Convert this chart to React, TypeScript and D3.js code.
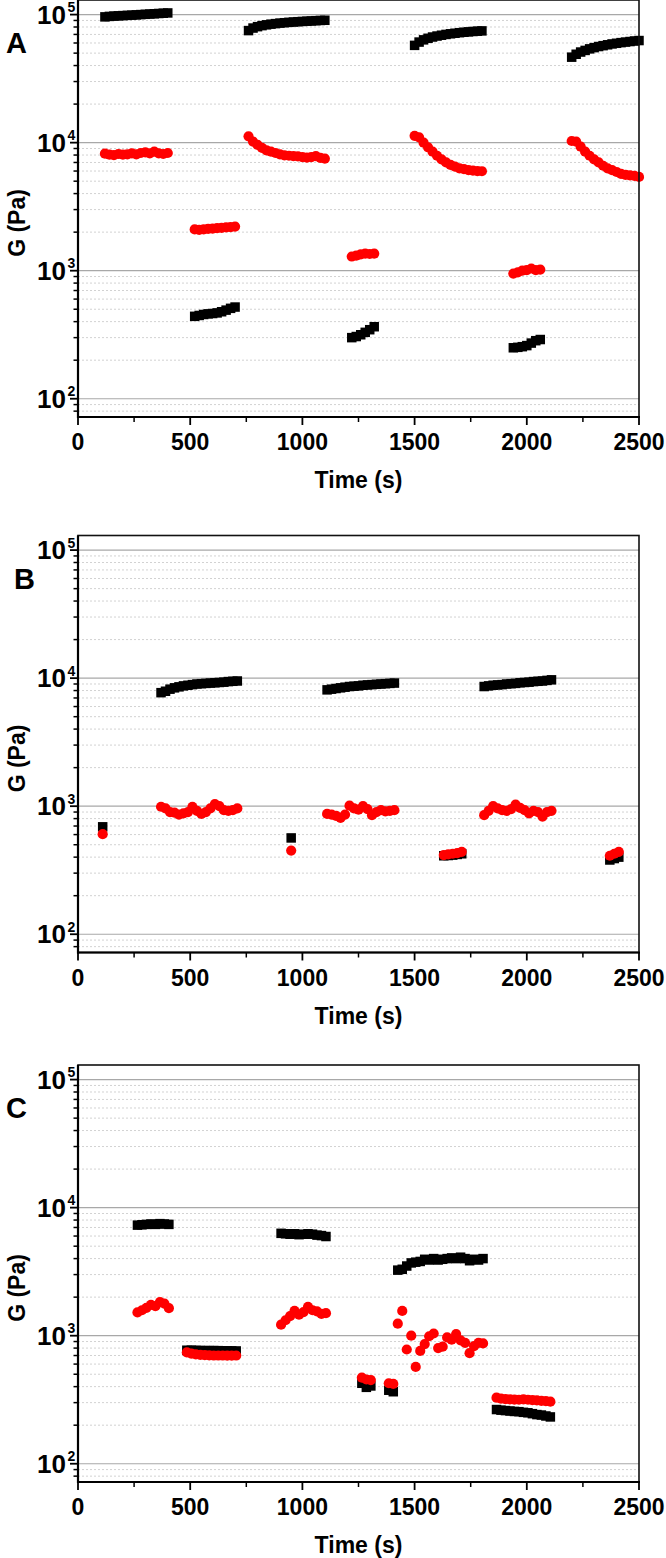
import React from 'react';
import * as d3 from 'd3';

type Pt = [number, number];

const xMajorTicks = [0, 500, 1000, 1500, 2000, 2500];
const xMinorTicks = [250, 750, 1250, 1750, 2250];
const yDecadeTicks = [100, 1000, 10000, 100000];
const yExponents = ['2', '3', '4', '5'];
const panelNames = ['A', 'B', 'C'];
const xTitle = 'Time (s)';
const yTitle = 'G (Pa)';

// Panel A
const aBlack: Pt[] = [
  [120, 96000], [140, 96800], [160, 97300], [180, 97800], [200, 98200], [220, 98600], [240, 99000], [260, 99500],
  [280, 100000], [300, 100500], [320, 101000], [340, 101500], [360, 102000], [380, 102500], [400, 103000],
  [520, 440], [540, 447], [560, 455], [580, 460], [600, 463], [620, 468], [640, 478], [660, 492], [680, 508], [700, 520],
  [760, 75000], [780, 78500], [800, 80500], [820, 82000], [840, 83200], [860, 84200], [880, 85000], [900, 85800],
  [920, 86400], [940, 87000], [960, 87500], [980, 88000], [1000, 88400], [1020, 88800], [1040, 89200], [1060, 89600],
  [1080, 90000], [1100, 90300],
  [1220, 300], [1240, 306], [1260, 316], [1280, 330], [1300, 346], [1320, 365],
  [1500, 57500], [1520, 61000], [1540, 63500], [1560, 65300], [1580, 66800], [1600, 68000], [1620, 69000], [1640, 70000],
  [1660, 70800], [1680, 71500], [1700, 72200], [1720, 72800], [1740, 73300], [1760, 73800], [1780, 74200], [1800, 74600],
  [1940, 250], [1960, 252], [1980, 255], [2000, 260], [2020, 272], [2040, 284], [2060, 290],
  [2200, 46500], [2220, 49000], [2240, 51000], [2260, 52500], [2280, 54000], [2300, 55200], [2320, 56300], [2340, 57200],
  [2360, 58100], [2380, 59000], [2400, 59700], [2420, 60400], [2440, 61000], [2460, 61600], [2480, 62200], [2500, 62700],
];
const aRed: Pt[] = [
  [120, 8200], [140, 8050], [160, 8000], [180, 8150], [200, 8050], [220, 8100], [240, 8250], [260, 8100],
  [280, 8300], [300, 8400], [320, 8250], [340, 8500], [360, 8250], [380, 8150], [400, 8300],
  [520, 2100], [540, 2080], [560, 2100], [580, 2120], [600, 2130], [620, 2150], [640, 2160], [660, 2175], [680, 2190], [700, 2210],
  [760, 11200], [780, 10200], [800, 9600], [820, 9100], [840, 8700], [860, 8500], [880, 8300], [900, 8100],
  [920, 7950], [940, 7900], [960, 7850], [980, 7800], [1000, 7700], [1020, 7650], [1040, 7700], [1060, 7850],
  [1080, 7600], [1100, 7500],
  [1220, 1290], [1240, 1310], [1260, 1340], [1280, 1360], [1300, 1350], [1320, 1360],
  [1500, 11300], [1520, 11000], [1540, 10000], [1560, 9200], [1580, 8500], [1600, 7900], [1620, 7400], [1640, 7000],
  [1660, 6700], [1680, 6500], [1700, 6300], [1720, 6200], [1740, 6100], [1760, 6050], [1780, 6000], [1800, 5980],
  [1940, 950], [1960, 970], [1980, 1000], [2000, 1010], [2020, 1040], [2040, 1010], [2060, 1020],
  [2200, 10300], [2220, 10200], [2240, 9300], [2260, 8500], [2280, 7900], [2300, 7400], [2320, 7000], [2340, 6600],
  [2360, 6300], [2380, 6100], [2400, 5900], [2420, 5700], [2440, 5600], [2460, 5550], [2480, 5500], [2500, 5400],
];

// Panel B
const bBlack: Pt[] = [
  [110, 690],
  [370, 7700], [390, 7900], [410, 8200], [430, 8400], [450, 8550], [470, 8700], [490, 8800], [510, 8900], [530, 9000],
  [550, 9050], [570, 9100], [590, 9150], [610, 9200], [630, 9250], [650, 9300], [670, 9400], [690, 9450], [710, 9500],
  [950, 565],
  [1110, 8100], [1130, 8200], [1150, 8300], [1170, 8400], [1190, 8500], [1210, 8600], [1230, 8650], [1250, 8700],
  [1270, 8800], [1290, 8850], [1310, 8900], [1330, 8950], [1350, 9000], [1370, 9050], [1390, 9100], [1410, 9150],
  [1630, 410], [1650, 412], [1670, 415], [1690, 420], [1710, 425],
  [1810, 8600], [1830, 8700], [1850, 8800], [1870, 8850], [1890, 8900], [1910, 9000], [1930, 9050], [1950, 9100],
  [1970, 9200], [1990, 9250], [2010, 9300], [2030, 9400], [2050, 9450], [2070, 9500], [2090, 9600], [2110, 9700],
  [2370, 380], [2390, 390], [2410, 400],
];
const bRed: Pt[] = [
  [110, 605],
  [370, 990], [390, 960], [410, 900], [430, 890], [450, 860], [470, 880], [490, 900], [510, 990], [530, 920],
  [550, 870], [570, 900], [590, 960], [610, 1040], [630, 1000], [650, 930], [670, 920], [690, 930], [710, 960],
  [950, 450],
  [1110, 870], [1130, 860], [1150, 840], [1170, 810], [1190, 860], [1210, 1010], [1230, 960], [1250, 940],
  [1270, 1000], [1290, 950], [1310, 850], [1330, 900], [1350, 930], [1370, 910], [1390, 920], [1410, 930],
  [1630, 415], [1650, 420], [1670, 425], [1690, 430], [1710, 440],
  [1810, 850], [1830, 920], [1850, 1000], [1870, 960], [1890, 930], [1910, 920], [1930, 950], [1950, 1030],
  [1970, 970], [1990, 930], [2010, 880], [2030, 920], [2050, 900], [2070, 830], [2090, 900], [2110, 920],
  [2370, 410], [2390, 425], [2410, 440],
];

// Panel C
const cBlack: Pt[] = [
  [265, 7300], [285, 7350], [305, 7400], [325, 7450], [345, 7400], [365, 7500], [385, 7450], [405, 7400],
  [485, 770], [505, 770], [525, 768], [545, 766], [565, 765], [585, 765], [605, 765], [625, 764], [645, 762],
  [665, 762], [685, 760], [705, 760],
  [905, 6300], [925, 6250], [945, 6200], [965, 6250], [985, 6150], [1005, 6200], [1025, 6250], [1045, 6200],
  [1065, 6100], [1085, 6050], [1105, 5950],
  [1265, 425], [1285, 395], [1305, 405],
  [1385, 375], [1405, 365],
  [1425, 3250], [1445, 3300], [1465, 3500], [1485, 3700], [1505, 3750], [1525, 3800], [1545, 3950], [1565, 3900],
  [1585, 4000], [1605, 3900], [1625, 3950], [1645, 4000], [1665, 4050], [1685, 4000], [1705, 4100], [1725, 4000],
  [1745, 3850], [1765, 3950], [1785, 3900], [1805, 4000],
  [1865, 265], [1885, 262], [1905, 260], [1925, 258], [1945, 256], [1965, 255], [1985, 252], [2005, 250],
  [2025, 246], [2045, 242], [2065, 240], [2085, 236], [2105, 232],
];
const cRed: Pt[] = [
  [265, 1520], [285, 1580], [305, 1650], [325, 1740], [345, 1700], [365, 1830], [385, 1780], [405, 1640],
  [485, 740], [505, 725], [525, 715], [545, 708], [565, 705], [585, 703], [605, 700], [625, 700], [645, 700],
  [665, 698], [685, 698], [705, 700],
  [905, 1220], [925, 1320], [945, 1420], [965, 1560], [985, 1460], [1005, 1530], [1025, 1680], [1045, 1580],
  [1065, 1550], [1085, 1480], [1105, 1500],
  [1265, 470], [1285, 455], [1305, 450],
  [1385, 425], [1405, 420],
  [1425, 1240], [1445, 1560], [1465, 780], [1485, 1000], [1505, 570], [1525, 760], [1545, 860], [1565, 990],
  [1585, 1040], [1605, 800], [1625, 820], [1645, 970], [1665, 930], [1685, 1030], [1705, 920], [1725, 880],
  [1745, 730], [1765, 830], [1785, 880], [1805, 870],
  [1865, 328], [1885, 322], [1905, 320], [1925, 318], [1945, 317], [1965, 316], [1985, 318], [2005, 316],
  [2025, 314], [2045, 312], [2065, 310], [2085, 308], [2105, 305],
];

const blackSeries = [aBlack, bBlack, cBlack];
const redSeries = [aRed, bRed, cRed];

const W = 666;
const H = 1558;
const LEFT = 78;
const RIGHT = 639;
const PLOT_H = 417;
const PANEL_TOPS = [0, 535.5, 1065];
const FONT = "'Liberation Sans', Arial, Helvetica, sans-serif";

function Panel({ idx }: { idx: number }) {
  const top = PANEL_TOPS[idx];
  const bottom = top + PLOT_H;
  const x = d3.scaleLinear().domain([0, 2500]).range([LEFT, RIGHT]);
  const y = d3.scaleLog().domain([72, 130000]).range([bottom, top]);
  const minor: number[] = [];
  [10, 100, 1000, 10000, 100000].forEach((d) => {
    for (let k = 2; k <= 9; k++) {
      const v = k * d;
      if (v >= 72 && v <= 130000) minor.push(v);
    }
  });
  const sq = 9.5;
  return (
    <g>
      {minor.map((v) => (
        <line key={'mg' + v} x1={LEFT} x2={RIGHT} y1={y(v)} y2={y(v)} stroke="#d2d2d2" strokeWidth={1} strokeDasharray="2,2" />
      ))}
      {yDecadeTicks.map((v) => (
        <line key={'Mg' + v} x1={LEFT} x2={RIGHT} y1={y(v)} y2={y(v)} stroke="#a8a8a8" strokeWidth={1.2} />
      ))}
      {blackSeries[idx].map(([t, v], i) => (
        <rect key={'b' + i} x={x(t) - sq / 2} y={y(v) - sq / 2} width={sq} height={sq} fill="#000" />
      ))}
      {redSeries[idx].map(([t, v], i) => (
        <circle key={'r' + i} cx={x(t)} cy={y(v)} r={5.1} fill="#ff0000" />
      ))}
      <rect x={LEFT} y={top} width={RIGHT - LEFT} height={PLOT_H} fill="none" stroke="#111" strokeWidth={1.6} />
      <line x1={LEFT} x2={LEFT} y1={top} y2={bottom + 1} stroke="#000" strokeWidth={2.2} />
      <line x1={LEFT - 1} x2={RIGHT + 1} y1={bottom} y2={bottom} stroke="#000" strokeWidth={2.2} />
      {minor.map((v) => (
        <line key={'mt' + v} x1={LEFT - 4.5} x2={LEFT} y1={y(v)} y2={y(v)} stroke="#000" strokeWidth={1.5} />
      ))}
      {yDecadeTicks.map((v, i) => (
        <g key={'yl' + v}>
          <line x1={LEFT - 8} x2={LEFT} y1={y(v)} y2={y(v)} stroke="#000" strokeWidth={1.8} />
          <text x={66} y={y(v) + 9} textAnchor="end" fontFamily={FONT} fontWeight="bold" fontSize={26} fill="#000">10</text>
          <text x={67.5} y={y(v) - 2.5} fontFamily={FONT} fontWeight="bold" fontSize={14} fill="#000">{yExponents[i]}</text>
        </g>
      ))}
      {xMinorTicks.map((t) => (
        <line key={'xm' + t} x1={x(t)} x2={x(t)} y1={bottom} y2={bottom + 5} stroke="#000" strokeWidth={1.5} />
      ))}
      {xMajorTicks.map((t) => (
        <g key={'xM' + t}>
          <line x1={x(t)} x2={x(t)} y1={bottom} y2={bottom + 8} stroke="#000" strokeWidth={1.8} />
          <text x={x(t)} y={bottom + 33} textAnchor="middle" fontFamily={FONT} fontWeight="bold" fontSize={23} fill="#000">{t}</text>
        </g>
      ))}
      <text x={(LEFT + RIGHT) / 2} y={bottom + 71} textAnchor="middle" fontFamily={FONT} fontWeight="bold" fontSize={23} fill="#000">{xTitle}</text>
      <text transform={`translate(25, ${top + 223}) rotate(-90)`} textAnchor="middle" fontFamily={FONT} fontWeight="bold" fontSize={23} fill="#000">{yTitle}</text>
      <text x={idx === 1 ? 14 : 6} y={top + 53} fontFamily={FONT} fontWeight="bold" fontSize={29} fill="#000">{panelNames[idx]}</text>
    </g>
  );
}

export default function App() {
  return (
    <svg width={W} height={H} viewBox={`0 0 ${W} ${H}`} style={{ position: 'absolute', left: 0, top: 0, background: '#fff' }}>
      <rect x={0} y={0} width={W} height={H} fill="#fff" />
      {[0, 1, 2].map((i) => (
        <Panel key={i} idx={i} />
      ))}
    </svg>
  );
}
